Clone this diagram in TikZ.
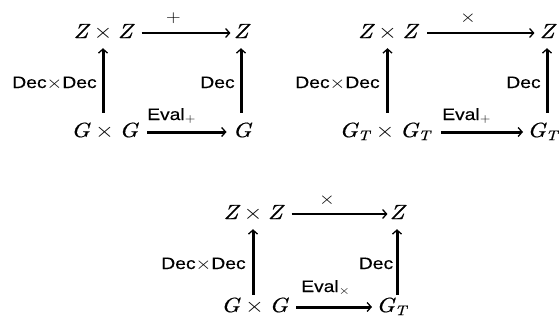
\documentclass[tikz,border=0pt]{standalone}
\usepackage{fontspec}
\newfontfamily\labfont{Liberation Sans}[FakeBold=0.3]
\newfontfamily\mi{lmroman10-italic}[Extension=.otf, FakeBold=0.5]
\usetikzlibrary{arrows.meta}
\newcommand\hst[1]{\scalebox{1.17}[1]{#1}}
\newcommand\mv[1]{\mbox{\mi #1}}
\newcommand\ms[1]{\mbox{\fontsize{14}{16}\selectfont\mi #1}}
\tikzset{
  obj/.style={inner sep=0pt, anchor=base, text height=14pt, text depth=4pt, font=\fontsize{20.5}{24}\selectfont},
  lab/.style={inner sep=0pt, anchor=base, font=\fontsize{16.5}{20}\selectfont\labfont},
  oplab/.style={inner sep=0pt, font=\fontsize{17}{20}\selectfont},
  tip/.style={-{Straight Barb[length=4pt,width=9pt,line width=1.3pt]}},
  thinarr/.style={tip, line width=1.4pt},
  thickarr/.style={tip, line width=3pt}
}
\begin{document}
\begin{tikzpicture}[x=1pt,y=-1pt]
\useasboundingbox (0,0) rectangle (559,322);
% diagram 1
\node[obj] (A1) at (103,38) {\hst{$\mv{Z}\times\mv{Z}$}};
\node[obj] (B1) at (241,38) {\hst{$\mv{Z}$}};
\node[obj] (C1) at (104.5,137) {\hst{$\mv{G}\times\mv{G}$}};
\node[obj] (D1) at (242,137) {\hst{$\mv{G}$}};
\draw[thinarr, shorten <=9pt, shorten >=3pt] (A1.east) -- (B1.west);
\draw[thickarr, shorten <=9pt, shorten >=6pt] (C1.east) -- (D1.west);
\draw[thickarr, shorten <=10pt, shorten >=6pt] (A1.south |- C1.north) -- (A1.south);
\draw[thickarr, shorten <=10pt, shorten >=6pt] (B1.south |- D1.north) -- (B1.south);
\node[oplab] (P1) at (173.5,18) {\hst{$+$}};
\node[lab, anchor=base west] (E1) at (147,120) {\hst{Eval$_+$}};
\node[lab] (L1) at (54.5,88) {\hst{Dec$\times$Dec}};
\node[lab] (R1) at (217.5,88) {\hst{Dec}};
% diagram 2
\node[obj] (A2) at (387.5,38) {\hst{$\mv{Z}\times\mv{Z}$}};
\node[obj] (B2) at (547,38) {\hst{$\mv{Z}$}};
\node[obj] (C2) at (385,137) {\hst{$\mv{G}_{\ms{T}}\times\mv{G}_{\ms{T}}$}};
\node[obj, anchor=base west] (D2) at (527,137) {\hst{$\mv{G}_{\ms{T}}$}};
\draw[thinarr, shorten <=10pt, shorten >=5pt] (A2.east) -- (B2.west);
\draw[thickarr, shorten <=10pt, shorten >=4pt] (C2.east) -- (D2.west);
\draw[thickarr, shorten <=10pt, shorten >=6pt] (A2.south |- C2.north) -- (A2.south);
\draw[thickarr, shorten <=10pt, shorten >=6pt] (B2.south |- D2.north) -- (B2.south);
\node[oplab] (P2) at (468,18) {\hst{$\times$}};
\node[lab, anchor=base west] (E2) at (442,120) {\hst{Eval$_+$}};
\node[lab] (L2) at (337.5,88) {\hst{Dec$\times$Dec}};
\node[lab] (R2) at (523.5,88) {\hst{Dec}};
% diagram 3
\node[obj] (A3) at (253,219) {\hst{$\mv{Z}\times\mv{Z}$}};
\node[obj] (B3) at (397,219) {\hst{$\mv{Z}$}};
\node[obj] (C3) at (254.5,312) {\hst{$\mv{G}\times\mv{G}$}};
\node[obj, anchor=base west] (D3) at (376,312) {\hst{$\mv{G}_{\ms{T}}$}};
\draw[thinarr, shorten <=9pt, shorten >=2pt] (A3.east) -- (B3.west);
\draw[thickarr, shorten <=8pt, shorten >=4pt] (C3.east) -- (D3.west);
\draw[thickarr, shorten <=3pt, shorten >=6pt] (A3.south |- C3.north) -- (A3.south);
\draw[thickarr, shorten <=3pt, shorten >=6pt] (B3.south |- D3.north) -- (B3.south);
\node[oplab] (P3) at (327,200) {\hst{$\times$}};
\node[lab, anchor=base west] (E3) at (301,292) {\hst{Eval$_\times$}};
\node[lab] (L3) at (203.5,269) {\hst{Dec$\times$Dec}};
\node[lab] (R3) at (376,269) {\hst{Dec}};
\end{tikzpicture}
\end{document}
